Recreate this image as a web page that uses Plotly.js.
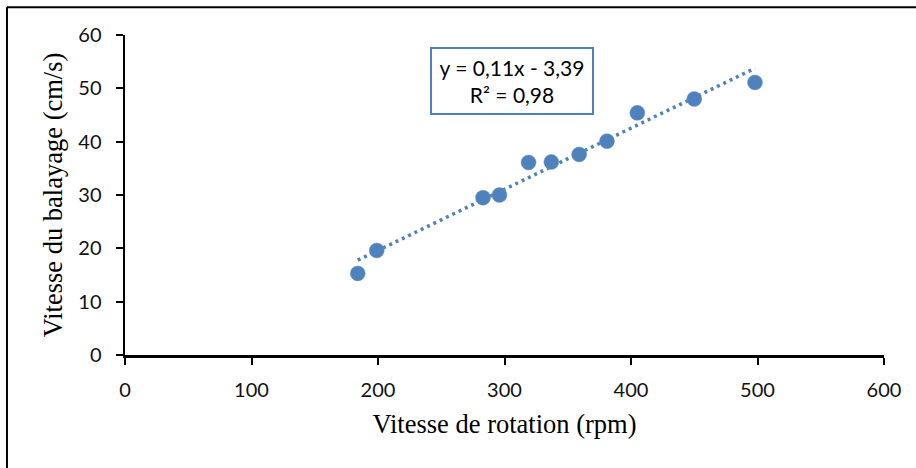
<!DOCTYPE html>
<html>
<head>
<meta charset="utf-8">
<script src="https://cdn.plot.ly/plotly-3.0.1.min.js"></script>
<style>
  html, body { margin: 0; padding: 0; background: #fff; }
  #chart { width: 916px; height: 468px; }
</style>
</head>
<body>
<div id="chart"></div>
<script>
// Data
const rotationSpeed = [184, 199, 283, 296, 319, 337, 359, 381, 405, 450, 498];   // rpm
const sweepSpeed    = [15.3, 19.6, 29.5, 30.0, 36.1, 36.2, 37.6, 40.1, 45.4, 48.0, 51.1]; // cm/s
const xTickVals = [0, 100, 200, 300, 400, 500, 600];
const yTickVals = [0, 10, 20, 30, 40, 50, 60];
const equationLabel = "y = 0,11x - 3,39";
const r2Label = "R² = 0,98";
const xTitle = "Vitesse de rotation (rpm)";
const yTitle = "Vitesse du balayage (cm/s)";

// Least-squares linear trendline computed from the data
const n = rotationSpeed.length;
const mx = rotationSpeed.reduce((a, b) => a + b, 0) / n;
const my = sweepSpeed.reduce((a, b) => a + b, 0) / n;
let sxy = 0, sxx = 0;
for (let i = 0; i < n; i++) {
  sxy += (rotationSpeed[i] - mx) * (sweepSpeed[i] - my);
  sxx += (rotationSpeed[i] - mx) * (rotationSpeed[i] - mx);
}
const slope = sxy / sxx;
const intercept = my - slope * mx;
const xMin = Math.min(...rotationSpeed), xMax = Math.max(...rotationSpeed);
const trendX = [xMin, xMax];
const trendY = trendX.map(v => slope * v + intercept);

const blue = '#4f81bd';

const traces = [
  {
    x: trendX, y: trendY, type: 'scatter', mode: 'lines',
    line: { color: blue, width: 3.5, dash: '3px,4px' },
    hoverinfo: 'skip', showlegend: false
  },
  {
    x: rotationSpeed, y: sweepSpeed, type: 'scatter', mode: 'markers',
    marker: { color: blue, size: 15, line: { color: '#6f98cc', width: 0.5 } },
    showlegend: false
  }
];

const tickFont = { family: 'Lato, "Open Sans", sans-serif', size: 20, color: '#111' };
const titleFont = { family: '"Liberation Serif", "Times New Roman", serif', size: 26.5, color: '#000' };

const layout = {
  width: 916, height: 468,
  paper_bgcolor: '#fff', plot_bgcolor: '#fff',
  margin: { l: 125, r: 32, t: 35, b: 113, pad: 0 },
  showlegend: false,
  xaxis: {
    range: [0, 600], tickvals: xTickVals, ticktext: xTickVals.map(String),
    showgrid: false, zeroline: false,
    showline: true, linecolor: '#000', linewidth: 2.5,
    ticks: 'outside', ticklen: 7, tickwidth: 2, tickcolor: '#000',
    ticklabelstandoff: 8,
    tickfont: tickFont,
    title: { text: xTitle, font: titleFont, standoff: 15 },
    fixedrange: true
  },
  yaxis: {
    range: [0, 60], tickvals: yTickVals, ticktext: yTickVals.map(String),
    showgrid: false, zeroline: false,
    showline: true, linecolor: '#000', linewidth: 2.5,
    ticks: 'outside', ticklen: 7, tickwidth: 2, tickcolor: '#000',
    ticklabelstandoff: 10,
    tickfont: tickFont,
    title: { text: yTitle, font: titleFont, standoff: 8 },
    fixedrange: true
  },
  annotations: [{
    xref: 'paper', yref: 'paper', x: 0.51, y: 0.855,
    xanchor: 'center', yanchor: 'middle',
    text: equationLabel + '<br>' + r2Label,
    showarrow: false, align: 'center',
    font: { family: 'Lato, "Open Sans", sans-serif', size: 21, color: '#000' },
    bgcolor: '#fff', bordercolor: blue, borderwidth: 2, borderpad: 1,
    width: 158, height: 62
  }],
  shapes: [
    { type: 'line', xref: 'paper', yref: 'paper', x0: -0.1555, x1: 1.06, y0: 1.087, y1: 1.087,
      line: { color: '#000', width: 2 } },
    { type: 'line', xref: 'paper', yref: 'paper', x0: -0.1555, x1: -0.1555, y0: 1.087, y1: -0.37,
      line: { color: '#000', width: 2 } }
  ]
};

Plotly.newPlot('chart', traces, layout, { displayModeBar: false, staticPlot: true });
</script>
</body>
</html>
